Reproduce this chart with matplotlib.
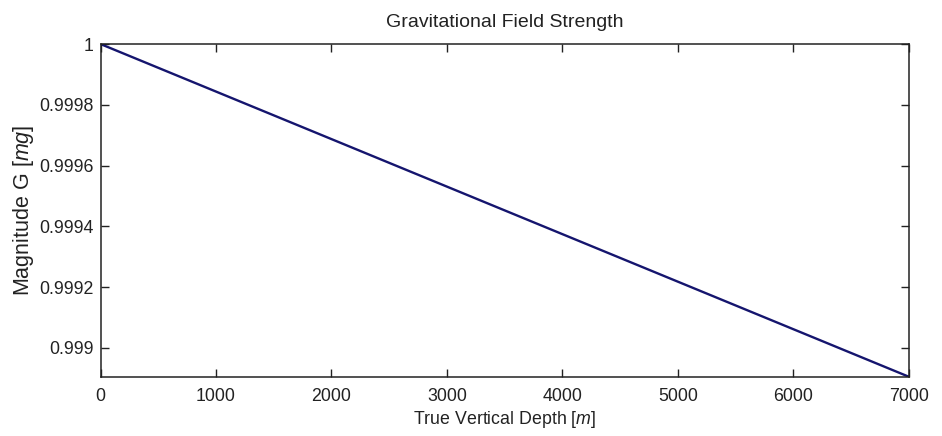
import matplotlib
matplotlib.use("Agg")
import matplotlib.pyplot as plt
import numpy as np

plt.rcParams['font.family'] = ['Liberation Sans', 'DejaVu Sans']
plt.rcParams['mathtext.fontset'] = 'custom'
plt.rcParams['mathtext.it'] = 'Liberation Sans:italic'
plt.rcParams['mathtext.rm'] = 'Liberation Sans'

# Data
depth = [0, 7000]
magnitude = [1.0, 0.998905]

x_ticks = [0, 1000, 2000, 3000, 4000, 5000, 6000, 7000]
y_ticks = [0.999, 0.9992, 0.9994, 0.9996, 0.9998, 1.0]
y_tick_labels = ['0.999', '0.9992', '0.9994', '0.9996', '0.9998', '1']

fig = plt.figure(figsize=(9.42, 4.36), dpi=100)
ax = fig.add_axes([0.1067, 0.136, 0.858, 0.763])

ax.plot(depth, magnitude, color='#15156e', linewidth=1.7)

ax.set_xlim(0, 7000)
ax.set_ylim(magnitude[-1], 1.0)
ax.set_xticks(x_ticks)
ax.set_xticklabels([str(t) for t in x_ticks])
ax.set_yticks(y_ticks)
ax.set_yticklabels(y_tick_labels)

ax.tick_params(direction='in', length=6, width=1.0, top=True, right=True,
               labelsize=12.8, colors='#222222')
ax.tick_params(axis='x', pad=8)
ax.tick_params(axis='y', pad=5)
for s in ax.spines.values():
    s.set_linewidth(1.1)
    s.set_color('#222222')

ax.set_title('Gravitational Field Strength', fontsize=14, color='#222222', pad=12)
ax.set_xlabel(r'True Vertical Depth $\mathit{[m]}$', fontsize=12.8, color='#222222', labelpad=3)
ax.set_ylabel(r'Magnitude G $\mathit{[mg]}$', fontsize=15.5, color='#222222', labelpad=2)

fig.savefig('out.png', dpi=100, facecolor='white')
